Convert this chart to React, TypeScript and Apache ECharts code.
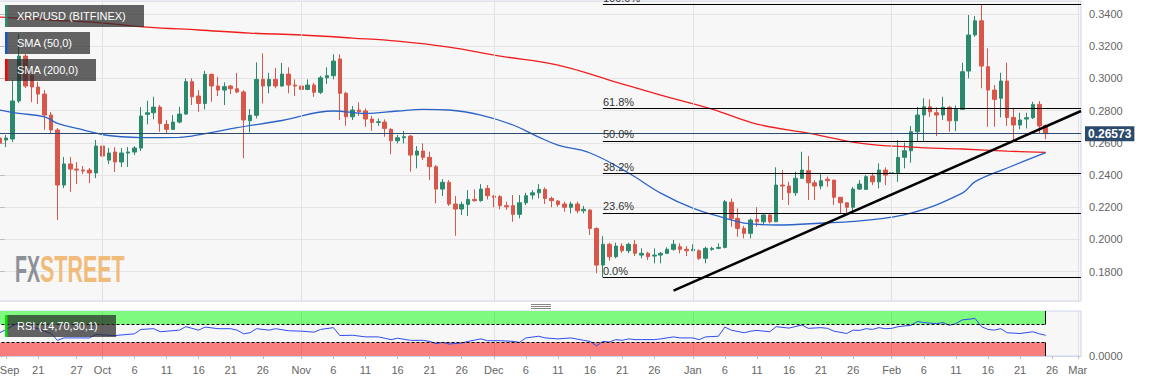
import React, { useEffect, useRef } from "react";
import * as echarts from "echarts";

// ---------- DATA ----------
const startDate = "2019-09-15";
const dayCount = 169; // Sep 15 2019 .. Mar 1 2020

// [open, close, low, high]
const sepCandles = [
  [0.2630, 0.2599, 0.2580, 0.2642], [0.2618, 0.2630, 0.2574, 0.2649], [0.2624, 0.2860, 0.2605, 0.2990],
  [0.2860, 0.3139, 0.2847, 0.3276], [0.3139, 0.2953, 0.2940, 0.3152], [0.3021, 0.2947, 0.2853, 0.3040],
  [0.2947, 0.2903, 0.2841, 0.2978], [0.2903, 0.2773, 0.2680, 0.2928], [0.2773, 0.2680, 0.2655, 0.2791],
  [0.2680, 0.2338, 0.2121, 0.2692], [0.2338, 0.2469, 0.2319, 0.2512], [0.2469, 0.2437, 0.2295, 0.2512],
  [0.2437, 0.2431, 0.2344, 0.2481], [0.2431, 0.2425, 0.2406, 0.2456], [0.2431, 0.2413, 0.2350, 0.2444],
  [0.2413, 0.2580, 0.2381, 0.2618],
];
const octCandles = [
  [0.2580, 0.2518, 0.2456, 0.2587], [0.2493, 0.2537, 0.2469, 0.2568], [0.2543, 0.2481, 0.2419, 0.2574],
  [0.2481, 0.2537, 0.2450, 0.2568], [0.2537, 0.2543, 0.2450, 0.2574], [0.2543, 0.2568, 0.2524, 0.2580],
  [0.2568, 0.2767, 0.2549, 0.2822], [0.2777, 0.2787, 0.2715, 0.2862], [0.2787, 0.2822, 0.2746, 0.2886],
  [0.2822, 0.2721, 0.2669, 0.2835], [0.2715, 0.2684, 0.2659, 0.2742], [0.2684, 0.2729, 0.2680, 0.2773],
  [0.2729, 0.2779, 0.2721, 0.2824], [0.2779, 0.2980, 0.2773, 0.3001], [0.2980, 0.2886, 0.2835, 0.3001],
  [0.2891, 0.2845, 0.2793, 0.2928], [0.2845, 0.3025, 0.2808, 0.3048], [0.3025, 0.2953, 0.2855, 0.3032],
  [0.2953, 0.2928, 0.2891, 0.3011], [0.2928, 0.2949, 0.2835, 0.2976], [0.2953, 0.2936, 0.2903, 0.2959],
  [0.2936, 0.2916, 0.2908, 0.3035], [0.2916, 0.2742, 0.2504, 0.2928], [0.2737, 0.2771, 0.2665, 0.2810],
  [0.2771, 0.2994, 0.2752, 0.3100], [0.2994, 0.2953, 0.2845, 0.3156], [0.2953, 0.2994, 0.2908, 0.3035],
  [0.2994, 0.2953, 0.2939, 0.3065], [0.2953, 0.3027, 0.2949, 0.3096], [0.3027, 0.2959, 0.2908, 0.3069],
  [0.2959, 0.2953, 0.2891, 0.2994],
];
const novCandles = [
  [0.2953, 0.2932, 0.2860, 0.2959], [0.2932, 0.2959, 0.2928, 0.2994], [0.2959, 0.2914, 0.2886, 0.2973],
  [0.2914, 0.3004, 0.2903, 0.3017], [0.3004, 0.3017, 0.2965, 0.3069], [0.3017, 0.3108, 0.2994, 0.3150],
  [0.3121, 0.2908, 0.2742, 0.3150], [0.2908, 0.2762, 0.2706, 0.2917], [0.2762, 0.2804, 0.2742, 0.2829],
  [0.2804, 0.2793, 0.2767, 0.2852], [0.2798, 0.2748, 0.2700, 0.2814], [0.2748, 0.2727, 0.2675, 0.2767],
  [0.2727, 0.2731, 0.2706, 0.2752], [0.2729, 0.2690, 0.2638, 0.2746], [0.2684, 0.2613, 0.2529, 0.2690],
  [0.2613, 0.2632, 0.2597, 0.2649], [0.2632, 0.2638, 0.2597, 0.2675], [0.2642, 0.2524, 0.2421, 0.2649],
  [0.2524, 0.2549, 0.2442, 0.2580], [0.2549, 0.2510, 0.2493, 0.2597], [0.2510, 0.2452, 0.2369, 0.2545],
  [0.2452, 0.2313, 0.2224, 0.2462], [0.2313, 0.2355, 0.2270, 0.2374], [0.2355, 0.2220, 0.2208, 0.2369],
  [0.2220, 0.2189, 0.2023, 0.2270], [0.2189, 0.2218, 0.2152, 0.2235], [0.2218, 0.2249, 0.2146, 0.2307],
  [0.2249, 0.2241, 0.2235, 0.2311], [0.2241, 0.2313, 0.2235, 0.2344], [0.2317, 0.2272, 0.2249, 0.2338],
];
const decCandles = [
  [0.2270, 0.2262, 0.2200, 0.2276], [0.2266, 0.2210, 0.2187, 0.2276], [0.2210, 0.2203, 0.2183, 0.2235],
  [0.2210, 0.2156, 0.2110, 0.2276], [0.2156, 0.2228, 0.2131, 0.2276], [0.2228, 0.2272, 0.2214, 0.2290],
  [0.2276, 0.2290, 0.2249, 0.2307], [0.2290, 0.2311, 0.2255, 0.2344], [0.2311, 0.2255, 0.2220, 0.2324],
  [0.2255, 0.2241, 0.2200, 0.2266], [0.2239, 0.2218, 0.2203, 0.2245], [0.2220, 0.2200, 0.2172, 0.2235],
  [0.2200, 0.2220, 0.2162, 0.2235], [0.2220, 0.2178, 0.2162, 0.2235], [0.2178, 0.2187, 0.2162, 0.2208],
  [0.2183, 0.2069, 0.2028, 0.2187], [0.2069, 0.1841, 0.1790, 0.2075], [0.1841, 0.1970, 0.1765, 0.2021],
  [0.1970, 0.1893, 0.1868, 0.1980], [0.1893, 0.1959, 0.1883, 0.1980], [0.1959, 0.1930, 0.1918, 0.1976],
  [0.1930, 0.1970, 0.1914, 0.1980], [0.1970, 0.1914, 0.1897, 0.1997], [0.1903, 0.1914, 0.1883, 0.1945],
  [0.1914, 0.1893, 0.1872, 0.1924], [0.1897, 0.1903, 0.1852, 0.1945], [0.1903, 0.1914, 0.1852, 0.1922],
  [0.1914, 0.1939, 0.1910, 0.1951], [0.1939, 0.1970, 0.1930, 0.1997], [0.1955, 0.1939, 0.1914, 0.1976],
  [0.1939, 0.1930, 0.1897, 0.1959],
];
const janCandles = [
  [0.1930, 0.1939, 0.1930, 0.1970], [0.1930, 0.1883, 0.1872, 0.1939], [0.1883, 0.1945, 0.1852, 0.1955],
  [0.1939, 0.1945, 0.1930, 0.1955], [0.1945, 0.1951, 0.1939, 0.1976], [0.1951, 0.2234, 0.1945, 0.2245],
  [0.2231, 0.2131, 0.2079, 0.2255], [0.2131, 0.2069, 0.2017, 0.2193], [0.2069, 0.2038, 0.2007, 0.2084],
  [0.2038, 0.2121, 0.2007, 0.2131], [0.2125, 0.2110, 0.2079, 0.2200], [0.2110, 0.2152, 0.2090, 0.2162],
  [0.2152, 0.2110, 0.2100, 0.2162], [0.2110, 0.2338, 0.2110, 0.2448], [0.2338, 0.2332, 0.2245, 0.2431],
  [0.2332, 0.2290, 0.2214, 0.2358], [0.2290, 0.2380, 0.2270, 0.2421], [0.2380, 0.2431, 0.2380, 0.2545],
  [0.2427, 0.2352, 0.2245, 0.2518], [0.2352, 0.2332, 0.2245, 0.2369], [0.2332, 0.2365, 0.2311, 0.2414],
  [0.2374, 0.2365, 0.2328, 0.2390], [0.2369, 0.2262, 0.2214, 0.2369], [0.2262, 0.2228, 0.2162, 0.2262],
  [0.2228, 0.2200, 0.2162, 0.2228], [0.2200, 0.2313, 0.2162, 0.2327], [0.2313, 0.2344, 0.2307, 0.2369],
  [0.2311, 0.2390, 0.2311, 0.2400], [0.2394, 0.2358, 0.2338, 0.2414], [0.2358, 0.2431, 0.2317, 0.2473],
  [0.2431, 0.2400, 0.2338, 0.2448],
];
const febCandles = [
  [0.2411, 0.2414, 0.2369, 0.2442], [0.2414, 0.2510, 0.2358, 0.2618], [0.2510, 0.2551, 0.2442, 0.2601],
  [0.2551, 0.2669, 0.2477, 0.2705], [0.2669, 0.2773, 0.2607, 0.2824], [0.2773, 0.2824, 0.2607, 0.2877],
  [0.2824, 0.2793, 0.2762, 0.2870], [0.2787, 0.2773, 0.2642, 0.2821], [0.2773, 0.2821, 0.2742, 0.2886],
  [0.2821, 0.2737, 0.2669, 0.2829], [0.2737, 0.2808, 0.2673, 0.2833], [0.2808, 0.3042, 0.2808, 0.3098],
  [0.3046, 0.3270, 0.3001, 0.3394], [0.3270, 0.3358, 0.3259, 0.3388], [0.3358, 0.3077, 0.2939, 0.3460],
  [0.3073, 0.2928, 0.2700, 0.3187], [0.2928, 0.2870, 0.2700, 0.2959], [0.2877, 0.2984, 0.2758, 0.3035],
  [0.2984, 0.2758, 0.2705, 0.3098], [0.2758, 0.2711, 0.2607, 0.2814], [0.2711, 0.2742, 0.2684, 0.2787],
  [0.2748, 0.2756, 0.2690, 0.2787], [0.2756, 0.2839, 0.2748, 0.2855], [0.2839, 0.2705, 0.2655, 0.2860],
  [0.2708, 0.26573, 0.2622, 0.2714],
];

// [day index since Sep 15, value]
const sma50 = [
  [0, 0.2804], [3, 0.2783], [7, 0.2762], [9, 0.2721], [13, 0.2680], [16, 0.2652], [19, 0.2638], [22, 0.2633],
  [28, 0.2634], [32, 0.2658], [37, 0.2694], [44, 0.2739], [52, 0.2798], [57, 0.2783], [62, 0.2798], [66, 0.2808],
  [70, 0.2804], [75, 0.2773], [80, 0.2711], [84, 0.2636], [87, 0.2586], [92, 0.2537], [98, 0.2413], [103, 0.2288],
  [108, 0.2195], [113, 0.2133], [116, 0.2102], [121, 0.2090], [129, 0.2104], [134, 0.2115], [142, 0.2164],
  [150, 0.2288], [152, 0.2359], [157, 0.2444], [163, 0.2539],
];
const sma200 = [
  [0, 0.3381], [8, 0.3363], [16, 0.3344], [23, 0.3319], [31, 0.3301], [39, 0.3282], [47, 0.3270], [55, 0.3251],
  [62, 0.3232], [70, 0.3195], [78, 0.3139], [87, 0.3083], [95, 0.2990], [103, 0.2897], [111, 0.2810],
  [118, 0.2717], [126, 0.2661], [134, 0.2599], [142, 0.2574], [150, 0.2562], [157, 0.2549], [163, 0.2541],
];
const rsi = [
  [0, 51.6], [2, 66.6], [3, 75], [4, 70], [5, 64], [6, 61], [7, 55], [8, 50], [9, 34.8], [10, 40.2], [14, 40.2],
  [15, 47.7], [18, 45.5], [21, 49.3], [22, 59], [24, 60.7], [25, 53.9], [28, 57.5], [29, 65.2], [31, 57.5],
  [32, 64.3], [34, 60.7], [36, 60.7], [37, 57.5], [38, 49.3], [39, 51.6], [40, 60.7], [42, 57.5], [43, 60.7],
  [45, 56.1], [47, 55.2], [49, 53], [50, 59], [52, 63], [53, 45.5], [55, 46.1], [57, 42.5], [59, 42.5],
  [61, 36.4], [62, 39.5], [64, 34.8], [66, 34.8], [67, 32.5], [68, 27.3], [69, 30.2], [70, 26.6], [72, 28.9],
  [73, 32.5], [75, 38], [76, 34], [78, 34], [80, 32.5], [81, 30.2], [82, 40.2], [84, 43.9], [85, 40.2], [87, 38],
  [89, 40.2], [91, 34.8], [92, 32.5], [93, 22.7], [94, 32.5], [95, 31.1], [96, 36.4], [97, 34.8], [98, 38],
  [99, 36.4], [100, 36.4], [102, 36.4], [103, 38], [105, 42.5], [106, 40.2], [108, 40.2], [109, 36.4],
  [110, 42.5], [112, 43.9], [113, 64.3], [114, 57.5], [116, 51.6], [117, 55.2], [118, 56.8], [120, 53.9],
  [121, 65.2], [123, 62], [125, 68.9], [126, 61.4], [128, 63], [129, 61.4], [130, 55.2], [132, 50], [133, 57.5],
  [134, 56.8], [135, 60.7], [136, 59], [137, 63], [138, 60.7], [139, 61.4], [140, 65.2], [142, 68.2],
  [143, 76.6], [144, 74.3], [146, 72], [147, 74.3], [148, 68.2], [149, 72], [150, 80.2], [152, 83.4],
  [153, 65.2], [154, 59], [155, 57.5], [156, 60.7], [157, 51.6], [159, 50], [161, 53.9], [162, 49.3], [163, 46.1],
];

const fibLow = 0.1765;
const fibHigh = 0.346;
const fibStartDate = "2019-12-18";
const fibRatios = [0, 0.236, 0.382, 0.5, 0.618, 1];
const trendline = [[105, 0.1682], [168.5, 0.2798]];
const rsiUpper = 70;
const rsiLower = 30;

const xTickLabels = [
  ["2019-09-16", "Sep"], ["2019-09-21", "21"], ["2019-09-27", "27"],
  ["2019-10-01", "Oct"], ["2019-10-06", "6"], ["2019-10-11", "11"], ["2019-10-16", "16"], ["2019-10-21", "21"], ["2019-10-26", "26"],
  ["2019-11-01", "Nov"], ["2019-11-06", "6"], ["2019-11-11", "11"], ["2019-11-16", "16"], ["2019-11-21", "21"], ["2019-11-26", "26"],
  ["2019-12-01", "Dec"], ["2019-12-06", "6"], ["2019-12-11", "11"], ["2019-12-16", "16"], ["2019-12-21", "21"], ["2019-12-26", "26"],
  ["2020-01-01", "Jan"], ["2020-01-06", "6"], ["2020-01-11", "11"], ["2020-01-16", "16"], ["2020-01-21", "21"], ["2020-01-26", "26"],
  ["2020-02-01", "Feb"], ["2020-02-06", "6"], ["2020-02-11", "11"], ["2020-02-16", "16"], ["2020-02-21", "21"], ["2020-02-26", "26"],
  ["2020-03-01", "Mar"],
];
const monthStarts = ["2019-10-01", "2019-11-01", "2019-12-01", "2020-01-01", "2020-02-01", "2020-03-01"];

// ---------- BUILD ----------
const categories: string[] = [];
{
  const d0 = new Date(startDate + "T00:00:00Z").getTime();
  for (let i = 0; i < dayCount; i++) {
    categories.push(new Date(d0 + i * 86400000).toISOString().slice(0, 10));
  }
}
const candles = [...sepCandles, ...octCandles, ...novCandles, ...decCandles, ...janCandles, ...febCandles];
const lastIdx = candles.length - 1;
const lastClose = candles[lastIdx][1];
const labelMap: Record<string, string> = {};
xTickLabels.forEach(([d, l]) => (labelMap[d] = l));
const monthIdx = monthStarts.map((d) => categories.indexOf(d));
const fibStartIdx = categories.indexOf(fibStartDate);
const xMin = -0.5;
const xMax = dayCount - 0.5;

const UP = "#2b8a6e";
const DOWN = "#d9574a";
const FONT = "'Liberation Sans', Arial, sans-serif";

const GRID_LEFT = -3.5;
const GRID_W = 1084.5;

function legendBox(y: number, w: number, text: string, strip: string) {
  return [
    { type: "rect", z: 100, shape: { x: 5, y, width: w, height: 22 }, style: { fill: "rgba(40,40,40,0.72)" } },
    { type: "rect", z: 101, shape: { x: 5, y, width: 2.5, height: 22 }, style: { fill: strip } },
    {
      type: "text", z: 101, x: 17, y: y + 11,
      style: { text, fill: "#ffffff", font: `11px ${FONT}`, align: "left", verticalAlign: "middle" },
    },
  ];
}

export default function App() {
  const ref = useRef<HTMLDivElement>(null);
  useEffect(() => {
    document.body.style.margin = "0";
    if (!ref.current) return;
    const chart = echarts.init(ref.current, null, { renderer: "svg" });
    const tickShown = (_i: number, v: string) => labelMap[v] !== undefined;
    const option: any = {
      animation: false,
      textStyle: { fontFamily: FONT },
      grid: [
        { left: GRID_LEFT, top: 1, width: GRID_W, height: 300, show: true, backgroundColor: "#f7f7f7", borderColor: "#ccd6eb", borderWidth: 1, outerBoundsMode: "none", containLabel: false },
        { left: GRID_LEFT, top: 311, width: GRID_W, height: 45, show: true, backgroundColor: "#f7f7f7", borderColor: "#ccd6eb", borderWidth: 1, outerBoundsMode: "none", containLabel: false },
      ],
      xAxis: [
        { type: "category", gridIndex: 0, data: categories, boundaryGap: true, show: false },
        {
          type: "category", gridIndex: 1, data: categories, boundaryGap: true,
          axisLine: { show: true, lineStyle: { color: "#ccd6eb" } },
          axisTick: { show: true, interval: tickShown, alignWithLabel: true, length: 3, lineStyle: { color: "#bbbbbb" } },
          axisLabel: {
            interval: tickShown, color: "#666", fontSize: 11, margin: 8, fontFamily: FONT,
            formatter: (v: string) => (labelMap[v] === "Sep" ? "{s|Sep}" : labelMap[v] || ""),
            rich: { s: { padding: [0, 0, 0, 7], color: "#666", fontSize: 11, fontFamily: FONT } },
          },
          splitLine: { show: false },
        },
        { type: "value", gridIndex: 0, min: xMin, max: xMax, show: false },
        { type: "value", gridIndex: 1, min: xMin, max: xMax, show: false },
      ],
      yAxis: [
        {
          type: "value", gridIndex: 0, position: "right", min: 0.1618, max: 0.3481,
          minInterval: 0.02, maxInterval: 0.02, splitNumber: 9, scale: true,
          axisLine: { show: true, lineStyle: { color: "#ccd6eb" } },
          axisTick: { show: true, length: 5, lineStyle: { color: "#bbbbbb" } },
          axisLabel: { formatter: (v: number) => v.toFixed(4), color: "#666", fontSize: 11, margin: 8, showMinLabel: false, showMaxLabel: false, fontFamily: FONT },
          splitLine: { show: true, lineStyle: { color: "#e4e4e4", width: 1 } },
        },
        {
          type: "value", gridIndex: 1, position: "right", min: 0, max: 100, interval: 100,
          axisLine: { show: true, lineStyle: { color: "#ccd6eb" } },
          axisTick: { show: true, length: 5, lineStyle: { color: "#bbbbbb" } },
          axisLabel: { formatter: (v: number) => (v === 0 ? "0.0000" : ""), color: "#666", fontSize: 11, margin: 8, fontFamily: FONT },
          splitLine: { show: false },
        },
      ],
      series: [
        {
          type: "line", xAxisIndex: 2, yAxisIndex: 0, data: [[-5, 0.25]], symbol: "none", silent: true, z: 1,
          lineStyle: { opacity: 0 },
          markLine: {
            silent: true, symbol: "none", label: { show: false },
            lineStyle: { color: "#e2e2e2", width: 1, type: "solid" },
            data: monthIdx.map((i) => ({ xAxis: i })),
          },
        },
        {
          type: "candlestick", xAxisIndex: 0, yAxisIndex: 0, data: candles, barWidth: 4, z: 2,
          itemStyle: { color: UP, color0: DOWN, borderColor: UP, borderColor0: DOWN, borderWidth: 1 },
        },
        {
          type: "line", xAxisIndex: 2, yAxisIndex: 0, data: [[-5, lastClose]], symbol: "none", silent: true, z: 2,
          lineStyle: { opacity: 0 },
          markLine: {
            silent: true, symbol: "none",
            lineStyle: { color: "#2c4a6b", width: 1, type: "solid" },
            label: {
              show: true, position: "end", formatter: lastClose.toFixed(5), backgroundColor: "#2c4a6b",
              color: "#ffffff", fontWeight: "bold", fontSize: 12, padding: [2, 3, 1, 3], distance: 4, fontFamily: FONT,
            },
            data: [[{ coord: [xMin, lastClose] }, { coord: [xMax, lastClose] }]],
          },
        },
        {
          type: "line", xAxisIndex: 2, yAxisIndex: 0, data: sma200, smooth: 0.4, symbol: "none", silent: true, z: 3,
          lineStyle: { color: "#f01e1e", width: 1.3 },
        },
        {
          type: "line", xAxisIndex: 2, yAxisIndex: 0, data: sma50, smooth: 0.4, symbol: "none", silent: true, z: 3,
          lineStyle: { color: "#2b63c6", width: 1.3 },
        },
        {
          type: "line", xAxisIndex: 2, yAxisIndex: 0, data: [[-5, fibLow]], symbol: "none", silent: true, z: 4,
          lineStyle: { opacity: 0 },
          markLine: {
            silent: true, symbol: "none",
            lineStyle: { color: "#000000", width: 1, type: "solid" },
            label: { show: true, position: "insideStartTop", formatter: "{b}", color: "#333", fontSize: 11, distance: [0, 1], fontFamily: FONT },
            data: fibRatios.map((r) => {
              const lvl = fibLow + r * (fibHigh - fibLow);
              return [
                { name: (r * 100).toFixed(1) + "%", coord: [fibStartIdx, lvl] },
                { coord: [xMax, lvl] },
              ];
            }),
          },
        },
        {
          type: "line", xAxisIndex: 2, yAxisIndex: 0, data: trendline, symbol: "none", silent: true, z: 5,
          lineStyle: { color: "#000000", width: 2.5 },
        },
        {
          type: "line", xAxisIndex: 3, yAxisIndex: 1, data: [[-5, 50]], symbol: "none", silent: true, z: 1,
          lineStyle: { opacity: 0 },
          markArea: {
            silent: true,
            data: [
              [{ coord: [xMin, rsiUpper], itemStyle: { color: "#7efb7e" } }, { coord: [lastIdx, 100] }],
              [{ coord: [xMin, 0], itemStyle: { color: "#f87d7d" } }, { coord: [lastIdx, rsiLower] }],
            ],
          },
          markLine: {
            silent: true, symbol: "none", label: { show: false },
            lineStyle: { color: "#000000", width: 1, type: "solid" },
            data: [
              [{ coord: [xMin, rsiUpper], lineStyle: { type: [3, 2] } }, { coord: [lastIdx, rsiUpper] }],
              [{ coord: [xMin, rsiLower], lineStyle: { type: [3, 2] } }, { coord: [lastIdx, rsiLower] }],
              [{ coord: [lastIdx, rsiUpper] }, { coord: [lastIdx, 100] }],
              [{ coord: [lastIdx, 0] }, { coord: [lastIdx, rsiLower] }],
            ],
          },
        },
        {
          type: "line", xAxisIndex: 3, yAxisIndex: 1, data: [[-5, 50]], symbol: "none", silent: true, z: 2,
          lineStyle: { opacity: 0 },
          markLine: {
            silent: true, symbol: "none", label: { show: false },
            lineStyle: { color: "rgba(0,0,0,0.07)", width: 1, type: "solid" },
            data: monthIdx.map((i) => ({ xAxis: i })),
          },
        },
        {
          type: "line", xAxisIndex: 3, yAxisIndex: 1, data: rsi, symbol: "none", silent: true, z: 3,
          lineStyle: { color: "#2f4cf0", width: 1 },
        },
      ],
      graphic: [
        ...legendBox(5, 139, "XRP/USD (BITFINEX)", UP),
        ...legendBox(32, 85, "SMA (50,0)", "#1a56c4"),
        ...legendBox(59, 91, "SMA (200,0)", "#ff0000"),
        ...legendBox(315, 111, "RSI (14,70,30,1)", "#00e600"),
        {
          type: "text", z: 50, x: 15, y: 269, scaleX: 0.53,
          style: { text: "FX", fill: "#8d9096", font: `bold 37px ${FONT}`, align: "left", verticalAlign: "middle" },
        },
        {
          type: "text", z: 50, x: 40, y: 269, scaleX: 0.58,
          style: { text: "STREET", fill: "#f1bc7a", font: `bold 37px ${FONT}`, align: "left", verticalAlign: "middle" },
        },
        { type: "line", z: 50, shape: { x1: 531, y1: 304.5, x2: 551, y2: 304.5 }, style: { stroke: "#888", lineWidth: 1 } },
        { type: "line", z: 50, shape: { x1: 531, y1: 306.5, x2: 551, y2: 306.5 }, style: { stroke: "#888", lineWidth: 1 } },
        { type: "line", z: 50, shape: { x1: 531, y1: 308.5, x2: 551, y2: 308.5 }, style: { stroke: "#888", lineWidth: 1 } },
      ],
    };
    chart.setOption(option);
    return () => chart.dispose();
  }, []);
  return <div ref={ref} style={{ width: 1153, height: 383 }} />;
}
